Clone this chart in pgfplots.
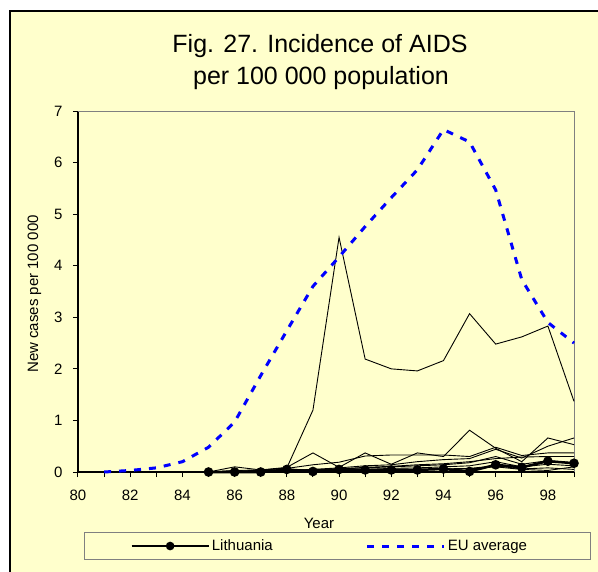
\documentclass[border=0pt]{standalone}
\usepackage{pgfplots}
\pgfplotsset{compat=1.18}
\usepackage{fontspec}
\setmainfont{Liberation Sans}
\definecolor{bg}{HTML}{FFFFCC}
\definecolor{eublue}{HTML}{0000FF}
\definecolor{thin}{HTML}{333333}
\begin{document}
\begin{tikzpicture}[x=1pt,y=1pt]
\useasboundingbox (0,0) rectangle (598,-572);
\fill[white] (0,0) rectangle (598,-572);
\fill[bg] (10,-11) rectangle (598,-572);
\draw[black, line width=1.3pt] (10,-572) -- (10,-11) -- (598,-11);
\node[anchor=base, font=\fontsize{25}{30}\selectfont] at (320,-53) {Fig. 27. Incidence of AIDS};
\node[anchor=base, font=\fontsize{25}{30}\selectfont] at (321,-85) {per 100 000 population};
\node[anchor=base, rotate=90, font=\fontsize{15}{18}\selectfont] at (38,-294) {New cases per 100 000};
\node[anchor=base, font=\fontsize{15}{18}\selectfont] at (319,-528.5) {Year};
\begin{axis}[
  at={(78pt,-472pt)}, anchor=south west,
  width=496pt, height=361pt, scale only axis,
  xmin=80, xmax=99, ymin=0, ymax=7,
  clip=false,
  axis lines*=left,
  axis line style={-, line width=1.5pt, black},
  tick align=outside,
  major tick length=5pt,
  tick style={black, line width=1pt},
  xtick={80,...,99},
  xticklabels={80,,82,,84,,86,,88,,90,,92,,94,,96,,98,},
  ytick={0,...,7},
  tick label style={font=\fontsize{15}{18}\selectfont},
  /pgf/number format/assume math mode=true,
  yticklabel style={xshift=-7pt},
  xticklabel style={yshift=-9pt},
  legend columns=2,
  legend style={
    at={(rel axis cs:0.0121,-0.2438)}, anchor=south west,
    draw=gray, line width=0.8pt, fill=none,
    font=\fontsize{15}{18}\selectfont,
    inner xsep=46pt, inner ysep=5.4pt,
    /tikz/column 1/.style={column sep=0pt},
    /tikz/column 2/.style={column sep=91pt},
    /tikz/column 3/.style={column sep=0pt},
  },
]
\draw[gray, line width=1pt] (rel axis cs:0,1) -- (rel axis cs:1,1) -- (rel axis cs:1,0);
% other countries (thin lines)
\addplot[thin, line width=0.9pt, forget plot] coordinates {(85,0) (86,0.02) (87,0.03) (88,0.08) (89,1.2) (90,4.55) (91,2.19) (92,2.0) (93,1.96) (94,2.16) (95,3.07) (96,2.48) (97,2.62) (98,2.83) (99,1.37)};
\addplot[thin, line width=0.9pt, forget plot] coordinates {(85,0) (86,0.1) (87,0.04) (88,0.09) (89,0.37) (90,0.09) (91,0.37) (92,0.15) (93,0.37) (94,0.3) (95,0.81) (96,0.46) (97,0.2) (98,0.66) (99,0.53)};
\addplot[thin, line width=0.9pt, forget plot] coordinates {(85,0) (86,0.03) (87,0.04) (88,0.07) (89,0.14) (90,0.19) (91,0.31) (92,0.33) (93,0.33) (94,0.33) (95,0.3) (96,0.48) (97,0.32) (98,0.37) (99,0.37)};
\addplot[thin, line width=0.9pt, forget plot] coordinates {(85,0) (86,0.01) (87,0.02) (88,0.03) (89,0.05) (90,0.08) (91,0.12) (92,0.14) (93,0.2) (94,0.24) (95,0.26) (96,0.44) (97,0.27) (98,0.5) (99,0.66)};
\addplot[thin, line width=0.9pt, forget plot] coordinates {(85,0) (86,0.02) (87,0.02) (88,0.03) (89,0.04) (90,0.06) (91,0.09) (92,0.11) (93,0.14) (94,0.16) (95,0.2) (96,0.26) (97,0.29) (98,0.3) (99,0.3)};
\addplot[thin, line width=0.9pt, forget plot] coordinates {(85,0) (86,0.01) (87,0.01) (88,0.02) (89,0.03) (90,0.04) (91,0.05) (92,0.07) (93,0.08) (94,0.1) (95,0.12) (96,0.2) (97,0.1) (98,0.15) (99,0.12)};
\addplot[thin, line width=0.9pt, forget plot] coordinates {(85,0) (86,0.0) (87,0.01) (88,0.01) (89,0.02) (90,0.03) (91,0.03) (92,0.04) (93,0.05) (94,0.06) (95,0.07) (96,0.12) (97,0.06) (98,0.08) (99,0.05)};
\addplot[thin, line width=0.9pt, forget plot] coordinates {(85,0) (86,0.01) (87,0.01) (88,0.02) (89,0.02) (90,0.02) (91,0.03) (92,0.03) (93,0.04) (94,0.05) (95,0.06) (96,0.1) (97,0.05) (98,0.03) (99,0.1)};
\addplot[thin, line width=0.9pt, forget plot] coordinates {(85,0) (86,0.01) (87,0.02) (88,0.03) (89,0.05) (90,0.06) (91,0.08) (92,0.1) (93,0.12) (94,0.14) (95,0.18) (96,0.3) (97,0.15) (98,0.22) (99,0.18)};
% Lithuania
\addplot[black, line width=2.5pt, mark=*, mark size=3.5pt, mark options={solid},
  legend image code/.code={\draw[black, line width=2.5pt] (0pt,0pt) -- (77pt,0pt); \fill[black] (38.5pt,0pt) circle (3pt);}]
  coordinates {(85,0) (86,0) (87,0) (88,0.05) (89,0.01) (90,0.05) (91,0.04) (92,0.04) (93,0.04) (94,0.06) (95,0.01) (96,0.14) (97,0.09) (98,0.21) (99,0.17)};
\addlegendentry{Lithuania}
% EU average
\addplot[eublue, line width=3pt, dash pattern=on 7pt off 8pt,
  legend image code/.code={\draw[eublue, line width=3pt, dash pattern=on 7pt off 8pt] (0pt,0pt) -- (77pt,0pt);}]
  coordinates {(81,0.0) (82,0.03) (83,0.08) (84,0.2) (85,0.48) (86,0.97) (87,1.87) (88,2.74) (89,3.6) (90,4.17) (91,4.76) (92,5.32) (93,5.86) (94,6.64) (95,6.4) (96,5.47) (97,3.73) (98,2.9) (99,2.5)};
\addlegendentry{\makebox[95pt][l]{EU average}}
\end{axis}
\end{tikzpicture}
\end{document}
